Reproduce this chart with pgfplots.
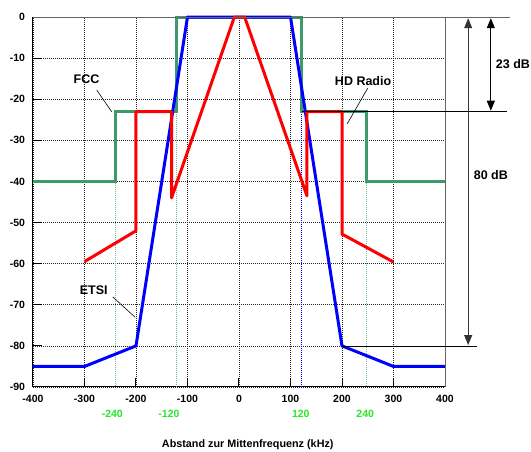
\documentclass[border=0pt]{standalone}
\usepackage{pgfplots}
\pgfplotsset{compat=1.18}
\usepackage{fontspec}
\setmainfont{Liberation Sans}
\usetikzlibrary{arrows.meta}
\definecolor{fccgreen}{RGB}{60,155,105}
\definecolor{lblgreen}{RGB}{40,230,40}
\begin{document}
\begin{tikzpicture}
\useasboundingbox (-33pt,-65pt) rectangle (498pt,387pt);
\begin{axis}[
  scale only axis, width=412pt, height=370pt,
  xmin=-400, xmax=400, ymin=-90, ymax=0,
  axis x line*=bottom, axis y line*=left,
  axis line style={-, black, line width=1pt},
  xtick={-400,-300,-200,-100,0,100,200,300,400},
  ytick={-90,-80,-70,-60,-50,-40,-30,-20,-10,0},
  xticklabels={-400,-300,-200,-100,0,100,200,300,400},
  yticklabels={-90,-80,-70,-60,-50,-40,-30,-20,-10,0},
  xtick pos=left, ytick pos=left,
  tick align=inside,
  major tick length=9pt,
  every tick/.style={black, line width=1pt},
  grid=major,
  major grid style={black!85, line width=0.6pt, dash pattern=on 1pt off 1pt},
  ticklabel style={font=\bfseries\fontsize{10.5}{12}\selectfont},
  yticklabel style={xshift=-4.5pt},
  xticklabel style={yshift=-5pt},
  extra x ticks={-246,-136,120,245},
  extra x tick labels={-240,-120,120,240},
  extra x tick style={grid=none, major tick length=0pt, tick style={draw=none},
    xticklabel style={text=lblgreen, yshift=-15pt}},
  clip=false,
]
% helper dotted verticals
\addplot[fccgreen!70, line width=0.8pt, dash pattern=on 1pt off 1pt] coordinates {(-240,-40) (-240,-90)};
\addplot[fccgreen!70, line width=0.8pt, dash pattern=on 1pt off 1pt] coordinates {(-121,-23) (-121,-90)};
\addplot[blue, line width=0.8pt, dash pattern=on 1pt off 1pt] coordinates {(122,-23) (122,-90)};
\addplot[fccgreen!70, line width=0.8pt, dash pattern=on 1pt off 1pt] coordinates {(248,-40) (248,-90)};
% FCC
\addplot[fccgreen, line width=3pt] coordinates {(-400,-40) (-240,-40) (-240,-23) (-121,-23) (-121,0) (122,0) (122,-23) (248,-23) (248,-40) (400,-40)};
% ETSI
\addplot[blue, line width=3pt, line join=round] coordinates {(-400,-85) (-300,-85) (-200,-80) (-100,0) (100,0) (200,-80) (300,-85) (400,-85)};
% HD Radio
\addplot[red, line width=3pt, line join=round] coordinates {(-300,-59.5) (-200,-52) (-200,-23) (-131,-23) (-131,-44) (-9,0) (11,0) (132,-43.5) (132,-23) (200,-23) (200,-52.8) (300,-59.6)};
% frame and reference lines
\draw[black!60, line width=0.8pt] (axis cs:-400,0) -- (axis cs:526,0);
\draw[black!60, line width=0.8pt] (axis cs:400,-90) -- (axis cs:400,0);
\draw[black, line width=0.6pt] (axis cs:122,-23) -- (axis cs:520,-23);
\draw[black, line width=0.6pt] (axis cs:200,-80) -- (axis cs:462,-80);
\draw[black!80, line width=0.8pt, {Triangle[width=8pt,length=10pt]}-{Triangle[width=8pt,length=10pt]}] (axis cs:445,-0.3) -- (axis cs:445,-79.8);
\draw[black, line width=0.8pt, {Triangle[width=8pt,length=10pt]}-{Triangle[width=8pt,length=10pt]}] (axis cs:489,-0.3) -- (axis cs:489,-22.8);
% leader lines
\draw[black, line width=0.6pt] (axis cs:-276,-17.8) -- (axis cs:-247,-23.1);
\draw[black, line width=0.6pt] (axis cs:250,-17.3) -- (axis cs:210,-26);
\draw[black, line width=0.6pt] (axis cs:-245,-68.1) -- (axis cs:-202,-73);
% labels
\node[font=\bfseries\fontsize{12.5}{14}\selectfont] at (axis cs:-296,-15.2) {FCC};
\node[font=\bfseries\fontsize{12.5}{14}\selectfont] at (axis cs:241,-15.6) {HD Radio};
\node[font=\bfseries\fontsize{12.5}{14}\selectfont] at (axis cs:-282,-66.5) {ETSI};
\node[font=\bfseries\fontsize{12.5}{14}\selectfont] at (axis cs:489,-38.4) {80 dB};
\node[font=\bfseries\fontsize{12.5}{14}\selectfont] at (axis cs:532,-11.4) {23 dB};
\node[font=\bfseries\fontsize{10.8}{12}\selectfont, yshift=-58pt] at (axis cs:17,-90) {Abstand zur Mittenfrequenz (kHz)};
\end{axis}
\end{tikzpicture}
\end{document}
